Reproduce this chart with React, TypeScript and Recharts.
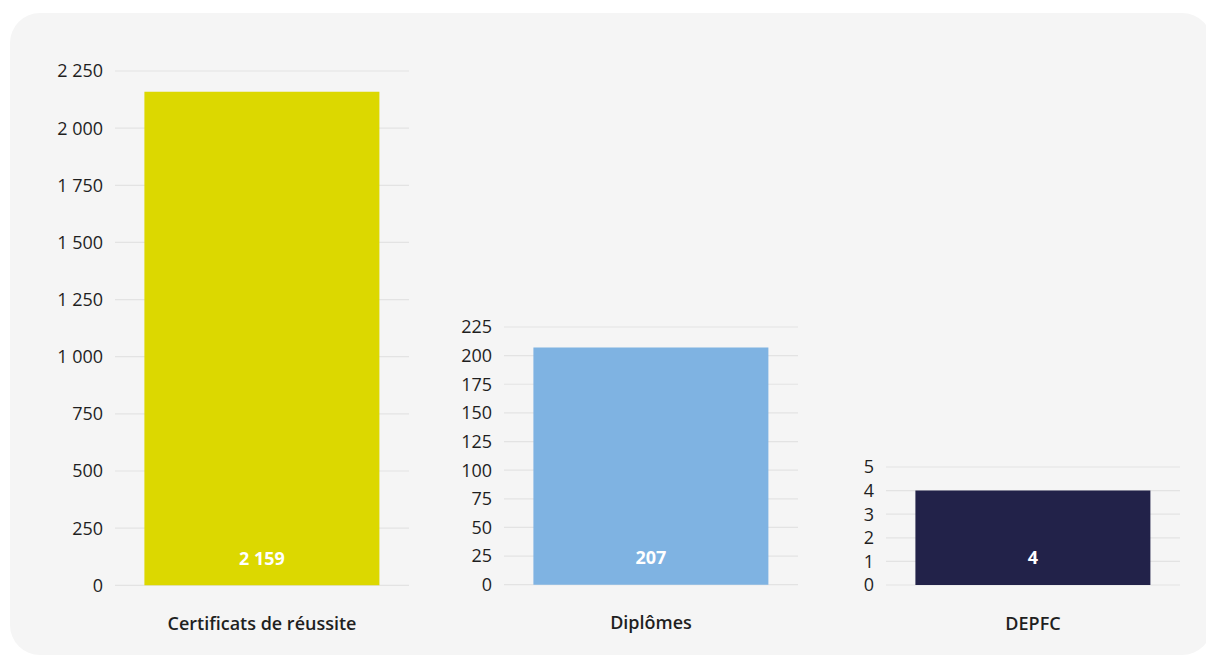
import React from "react";
import { BarChart, Bar, XAxis, YAxis, CartesianGrid, LabelList, Cell } from "recharts";

const categories = ["Certificats de réussite", "Diplômes", "DEPFC"];
const values = [2159, 207, 4];
const colors = ["#dcd800", "#7fb3e2", "#222249"];
const ticks1 = [0, 250, 500, 750, 1000, 1250, 1500, 1750, 2000, 2250];
const ticks2 = [0, 25, 50, 75, 100, 125, 150, 175, 200, 225];
const ticks3 = [0, 1, 2, 3, 4, 5];
const tickSets = [ticks1, ticks2, ticks3];

const FONT = "'Open Sans', 'Noto Sans', sans-serif";
const fmt = (v: number) => String(v).replace(/\B(?=(\d{3})+(?!\d))/g, " ");

// layout (positions only)
const plotLefts = [115, 504, 886];
const plotTops = [70.7, 327.3, 467];
const plotBottom = 585;
const plotWidth = 294;
const Y_W = 70;
const TOP_M = 12;
const X_H = 60;

const InsideLabel = (props: any) => {
  const { x, y, width, height, value } = props;
  return (
    <text
      x={x + width / 2}
      y={y + height - 27}
      dy="0.35em"
      textAnchor="middle"
      fill="#ffffff"
      fontFamily={FONT}
      fontSize={18}
      fontWeight={700}
    >
      {fmt(value)}
    </text>
  );
};

function Single({ i }: { i: number }) {
  const data = [{ name: categories[i], value: values[i] }];
  const ticks = tickSets[i];
  const plotH = plotBottom - plotTops[i];
  const w = Y_W + plotWidth + 10;
  const h = TOP_M + plotH + X_H;
  return (
    <div style={{ position: "absolute", left: plotLefts[i] - Y_W, top: plotTops[i] - TOP_M }}>
      <BarChart
        width={w}
        height={h}
        data={data}
        margin={{ top: TOP_M, right: 10, bottom: 0, left: 0 }}
        barCategoryGap="10%"
      >
        <CartesianGrid vertical={false} stroke="#e3e3e3" strokeWidth={1.2} />
        <XAxis
          dataKey="name"
          height={X_H}
          axisLine={false}
          tickLine={false}
          tickSize={0}
          tickMargin={32}
          tick={{ fill: "#1f1f1f", fontSize: 18, fontWeight: 600, fontFamily: FONT }}
        />
        <YAxis
          width={Y_W}
          domain={[0, ticks[ticks.length - 1]]}
          ticks={ticks}
          interval={0}
          axisLine={false}
          tickLine={false}
          tickSize={0}
          tickMargin={12}
          tickFormatter={fmt}
          tick={{ fill: "#1f1f1f", fontSize: 18, fontFamily: FONT }}
        />
        <Bar dataKey="value" isAnimationActive={false}>
          <Cell fill={colors[i]} />
          <LabelList dataKey="value" content={InsideLabel} />
        </Bar>
      </BarChart>
    </div>
  );
}

export default function App() {
  return (
    <div style={{ position: "absolute", left: 0, top: 0, width: 1206, height: 655, overflow: "hidden", background: "#ffffff" }}>
      <div
        style={{
          position: "absolute",
          left: 10,
          top: 13,
          width: 1202,
          height: 642,
          borderRadius: 30,
          background: "#f5f5f5",
        }}
      />
      <Single i={0} />
      <Single i={1} />
      <Single i={2} />
    </div>
  );
}
